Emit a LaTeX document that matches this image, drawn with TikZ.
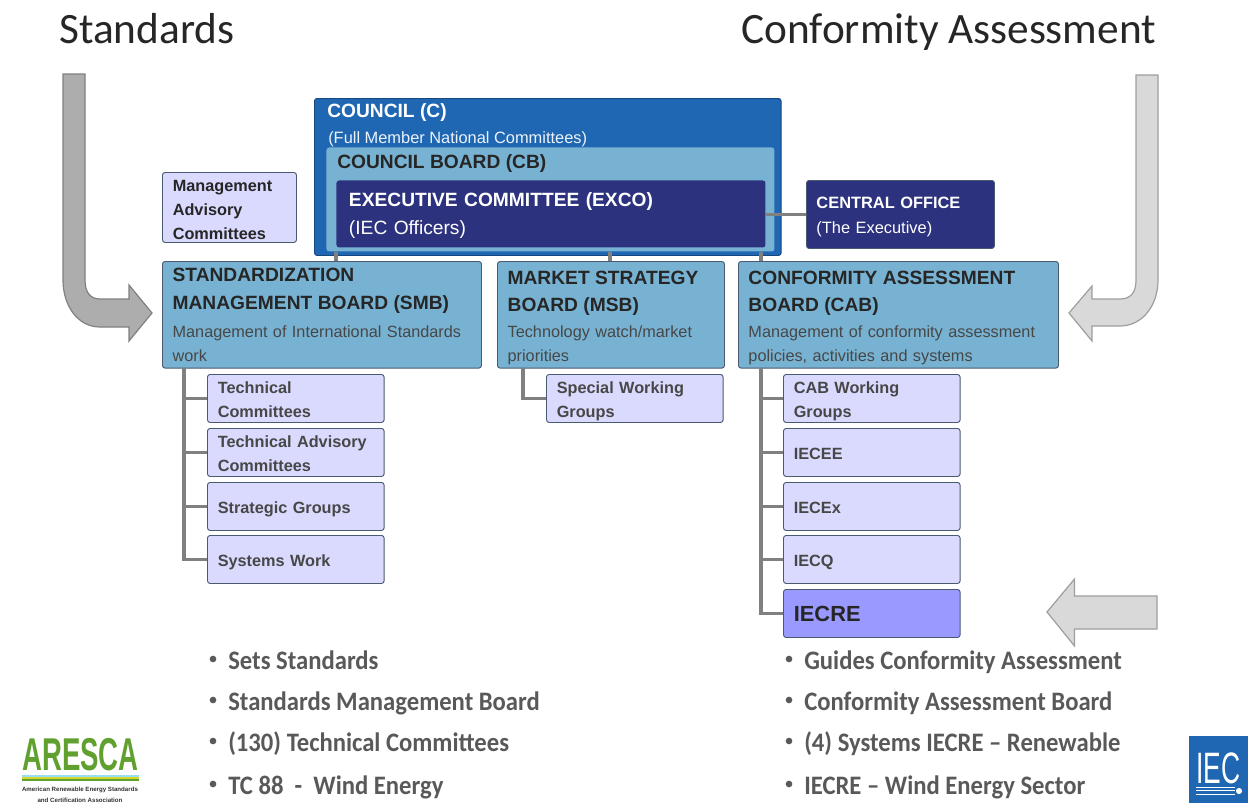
\documentclass[tikz,border=0pt]{standalone}
\usepackage{fontspec}
\setmainfont{Liberation Sans}
\newfontfamily\calfont{Carlito}
\newfontfamily\listfont[FakeStretch=0.925]{Carlito}
\newfontfamily\logofont[FakeStretch=0.6]{Liberation Sans}
\definecolor{councilblue}{HTML}{1F66B3}
\definecolor{boardblue}{HTML}{78B2D2}
\definecolor{execblue}{HTML}{2C327D}
\definecolor{paleviolet}{HTML}{DADAFF}
\definecolor{strongviolet}{HTML}{9999FF}
\definecolor{boxedge}{HTML}{4A5A70}
\definecolor{linkgray}{HTML}{808080}
\definecolor{inktext}{HTML}{262626}
\definecolor{bullettext}{HTML}{595959}
\definecolor{arescagreen}{HTML}{5FA02E}
\newcommand{\boardhead}[1]{{\fontsize{14.4}{18}\selectfont #1}}
\newcommand{\boarddesc}[1]{{\fontsize{12.2}{18}\selectfont\mdseries\color{inktext!85} #1}}

\begin{document}
\begin{tikzpicture}[x=0.75pt,y=-0.75pt]
\tikzstyle{box}=[draw=boxedge,line width=0.7pt,rounded corners=2pt,anchor=north west,inner xsep=7.5pt,inner ysep=0pt,align=left,font=\fontsize{12.2}{18}\selectfont\bfseries,text=inktext]
\tikzstyle{small box}=[box,fill=paleviolet,minimum width=132.5pt,minimum height=36pt,text width=117pt,text=black!72]
\tikzstyle{sub box}=[small box,execute at begin node={\rule{0pt}{14pt}},execute at end node={\rule[-4pt]{0pt}{1pt}}]
\tikzstyle{board box}=[box,fill=boardblue,minimum height=80pt]
\tikzstyle{link}=[draw=linkgray,line width=2.3pt]
\tikzstyle{dark arrow}=[fill=black!32,draw=linkgray,line width=0.9pt]
\tikzstyle{light arrow}=[fill=black!15,draw=black!38,line width=0.9pt]
\tikzstyle{head}=[anchor=base west,inner sep=0pt,font=\calfont\fontsize{32.5}{36}\selectfont,text=black!85]
\tikzstyle{bullet}=[anchor=base west,inner sep=0pt,font=\listfont\fontsize{20}{22}\selectfont\bfseries,text=bullettext]
\tikzstyle{label}=[anchor=west,inner sep=0pt]
\useasboundingbox (0,0) rectangle (1248,803);

% Titles
\node[head] (T-std) at (59,43) {Standards};
\node[head] (T-ca) at (741,43) {Conformity Assessment};

% Big arrows
\path[dark arrow] (63,74) -- (85,74) -- (85,280) .. controls (85,292) and (90,299) .. (100,299)
  -- (129,299) -- (129,285) -- (152,313) -- (129,341) -- (129,327) -- (100,327)
  .. controls (78,327) and (63,306) .. (63,280) -- cycle;
\path[light arrow] (1158,75) -- (1136,75) -- (1136,280) .. controls (1136,292) and (1131,299) .. (1120,299)
  -- (1092,299) -- (1092,286) -- (1069,313) -- (1092,341) -- (1092,326) -- (1120,326)
  .. controls (1142,326) and (1158,306) .. (1158,280) -- cycle;
\path[light arrow] (1047,612) -- (1074.5,579) -- (1074.5,596) -- (1157,596) -- (1157,629) -- (1074.5,629) -- (1074.5,646) -- cycle;

% Council boxes
\node[box,fill=councilblue,draw=councilblue!70!black,minimum width=350pt,minimum height=117.75pt] (C) at (314,98) {};
\node[label,text=white,font=\fontsize{14.4}{16}\selectfont\bfseries] (C-t) at (327,113) {COUNCIL (C)};
\node[label,text=white!92!councilblue,font=\fontsize{12.3}{14}\selectfont] (C-s) at (328,139) {(Full Member National Committees)};
\node[box,fill=boardblue,draw=none,minimum width=336pt,minimum height=78pt] (CB) at (326,147) {};
\node[label,text=inktext,font=\fontsize{14.4}{16}\selectfont\bfseries] (CB-t) at (337,164) {COUNCIL BOARD (CB)};
\node[box,fill=execblue,draw=none,minimum width=321.75pt,minimum height=50.25pt,text width=303pt,text=white,font=\fontsize{14.4}{21}\selectfont] (EX) at (336,180) {\rule{0pt}{13.5pt}\textbf{EXECUTIVE COMMITTEE (EXCO)}\\(IEC Officers)};
\node[box,fill=execblue,minimum width=141pt,minimum height=51pt,text width=126pt,text=white,font=\fontsize{12.3}{19}\selectfont] (CO) at (806,180) {\rule{0pt}{12pt}\textbf{CENTRAL OFFICE}\\(The Executive)};
\node[small box,minimum width=100.5pt,minimum height=52.5pt,text width=85pt,text=inktext] (MAC) at (162,172) {\rule{0pt}{11.8pt}Management\\Advisory\\Committees};

% Boards
\node[board box,minimum width=239.25pt,text width=224pt] (SMB) at (162,261) {\boardhead{STANDARDIZATION}\\[3pt]\boardhead{MANAGEMENT BOARD (SMB)}\\[3pt]\boarddesc{Management of International Standards}\\\boarddesc{work}};
\node[board box,minimum width=170.25pt,text width=155pt] (MSB) at (497,261) {\rule{0pt}{15pt}\boardhead{MARKET STRATEGY}\\[2.5pt]\boardhead{BOARD (MSB)}\\[1.5pt]\boarddesc{Technology watch/market}\\\boarddesc{priorities}};
\node[board box,minimum width=240pt,text width=225pt] (CAB) at (738,261) {\rule{0pt}{15pt}\boardhead{CONFORMITY ASSESSMENT}\\[2.5pt]\boardhead{BOARD (CAB)}\\[1.5pt]\boarddesc{Management of conformity assessment}\\\boarddesc{policies, activities and systems}};

% Small boxes under SMB
\foreach \name / \y / \txt in {1/374/Technical\\Committees,2/428/Technical Advisory\\Committees,3/482/Strategic Groups,4/535/Systems Work}
\node[sub box] (S-\name) at (207,\y) {\txt};

% Small box under MSB
\node[sub box] (M-1) at (546,374) {Special Working\\Groups};

% Small boxes under CAB
\foreach \name / \y / \txt in {1/374/CAB Working\\Groups,2/428/IECEE,3/482/IECEx,4/535/IECQ}
\node[sub box] (A-\name) at (783,\y) {\txt};
\node[small box,fill=strongviolet,text=inktext,font=\fontsize{16.4}{20}\selectfont\bfseries] (A-5) at (783,589) {IECRE};

% Connectors
\coordinate (SMB-b) at (184,368);
\coordinate (MSB-b) at (523,368);
\coordinate (CAB-b) at (761,368);
\foreach \source in {1,...,4}
\draw[link] (S-\source.west) -| (SMB-b);
\draw[link] (M-1.west) -| (MSB-b);
\foreach \source in {1,...,5}
\draw[link] (A-\source.west) -| (CAB-b);
\draw[link] (EX.east |- CO.west) -- (CO.west);
\coordinate (C-a) at (336,252);
\coordinate (SMB-a) at (336,261);
\draw[link] (C-a) -- (SMB-a);
\coordinate (C-b) at (610,252);
\coordinate (MSB-a) at (610,261);
\draw[link] (C-b) -- (MSB-a);
\coordinate (C-c) at (761,252);
\coordinate (CAB-a) at (761,261);
\draw[link] (C-c) -- (CAB-a);

% Bullet lists
\foreach \name / \y / \txt in {1/669/Sets Standards,2/710/Standards Management Board,3/751/(130) Technical Committees,4/794/TC 88\ \ -\ \ Wind Energy} {
\node[bullet] (L-\name) at (228,\y) {\txt};
\fill[bullettext] (213,\y-10) circle (2.5pt);
}
\foreach \name / \y / \txt in {1/669/Guides Conformity Assessment,2/710/Conformity Assessment Board,3/751/(4) Systems IECRE – Renewable,4/794/IECRE – Wind Energy Sector} {
\node[bullet] (R-\name) at (804,\y) {\txt};
\fill[bullettext] (789,\y-10) circle (2.5pt);
}

% ARESCA logo
\node[anchor=base west,inner sep=0pt,text=arescagreen,font=\logofont\fontsize{34.5}{36}\selectfont\bfseries] (AR) at (22,770) {ARESCA};
\fill[cyan!40!white] (22,775) rectangle (139,777);
\fill[yellow!70!arescagreen] (22,777) rectangle (139,779);
\fill[arescagreen] (22,779) rectangle (139,781);
\node[anchor=base,inner sep=0pt,text=black!80,font=\fontsize{4.6}{5}\selectfont\bfseries] (AR-a) at (80,791) {American Renewable Energy Standards};
\node[anchor=base,inner sep=0pt,text=black!80,font=\fontsize{4.6}{5}\selectfont\bfseries] (AR-b) at (80,802) {and Certification Association};

% IEC logo
\fill[councilblue] (1189,736) rectangle (1248,803);
\node[anchor=base west,inner sep=0pt,text=white,font=\logofont\fontsize{33}{33}\selectfont] (IEC) at (1196,783) {IEC};
\foreach \y in {787,790.5,794}
\draw[white,line width=0.7pt] (1196,\y) -- (1235,\y);
\fill[white] (1239,791) circle (2.3pt);
\end{tikzpicture}
\end{document}
